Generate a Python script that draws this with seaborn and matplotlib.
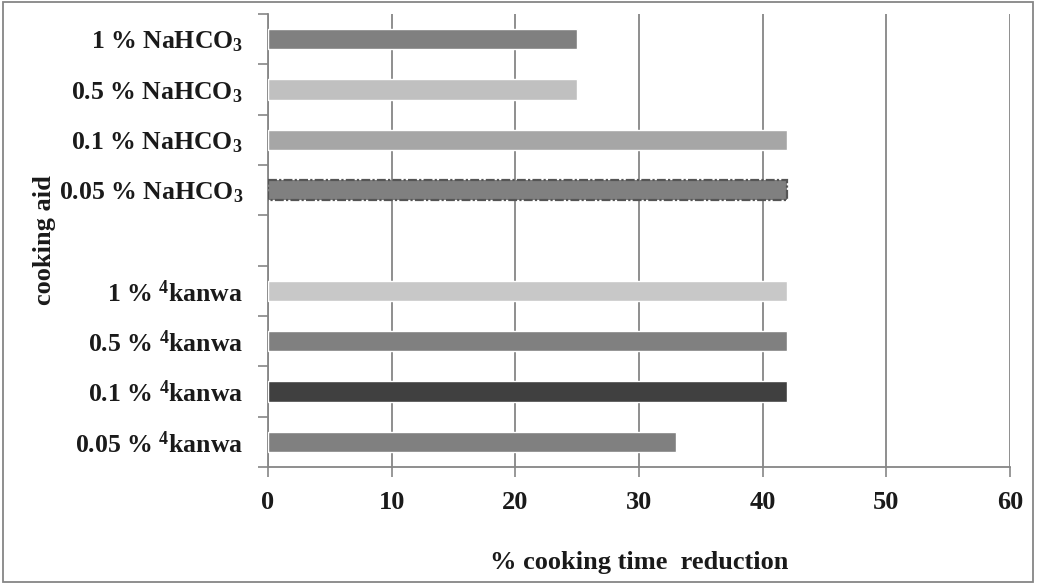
import numpy as np
import pandas as pd
import matplotlib.pyplot as plt
import matplotlib.patches as mpatches
import seaborn as sb

# chart values, top to bottom (one empty slot between the two groups)
aids = ["1 % NaHCO$_3$", "0.5 % NaHCO$_3$", "0.1 % NaHCO$_3$", "0.05 % NaHCO$_3$", " ",
        "1 % $^4$kanwa", "0.5 % $^4$kanwa", "0.1 % $^4$kanwa", "0.05 % $^4$kanwa"]
reduction = [25, 25, 42, 42, 0, 42, 42, 42, 33]
bar_colors = ["#808080", "#c0c0c0", "#a6a6a6", "#808080", "#ffffff",
              "#c8c8c8", "#808080", "#404040", "#808080"]

df = pd.DataFrame({"aid": aids, "reduction": reduction})

sb.set_style("white", {"xtick.bottom": True, "ytick.left": True})
plt.rcParams['font.family'] = ['Liberation Serif', 'DejaVu Serif']
plt.rcParams['font.weight'] = 'bold'
plt.rcParams['mathtext.fontset'] = 'custom'
plt.rcParams['mathtext.rm'] = 'Liberation Serif:bold'
plt.rcParams['mathtext.bf'] = 'Liberation Serif:bold'
plt.rcParams['mathtext.default'] = 'bf'

fig = plt.figure(figsize=(10.4, 5.84), dpi=100)
ax = fig.add_axes([0.2577, 0.2003, 0.7135, 0.7757])

sb.barplot(data=df, y="aid", x="reduction", hue="aid", order=aids,
           palette=dict(zip(aids, bar_colors)), legend=False,
           width=0.4, orient="h", ax=ax, saturation=1, zorder=3)

# dashed outline on the 0.05 % NaHCO3 bar
p = ax.patches[3]
p.set_edgecolor("#555555")
p.set_linestyle((0, (4, 1, 1, 1)))
p.set_linewidth(1.6)
ax.patches[4].set_visible(False)

ax.set_xlim(0, 60)
ax.set_ylim(8.5, -0.5)
ax.set_xticks(np.arange(0, 61, 10))
ax.set_xticklabels([str(v) for v in range(0, 61, 10)], fontsize=19, fontweight='bold')
ax.set_yticks(range(len(aids)))
ax.set_yticklabels(aids, fontsize=18.5, fontweight='bold')
ax.set_yticks(np.arange(-0.5, 9, 1), minor=True)
ax.tick_params(axis='y', which='major', length=0, pad=18, colors='#1a1a1a')
ax.tick_params(axis='y', which='minor', left=True, length=7, color='#868686', width=1.2, direction='out')
ax.tick_params(axis='x', which='major', bottom=True, length=7, width=1.2,
               direction='out', pad=10, labelcolor='#1a1a1a', color='#868686')

ax.grid(axis='x', color='#868686', linewidth=1.3, zorder=0)
ax.grid(axis='y', visible=False)
for s in ['top', 'right']:
    ax.spines[s].set_visible(False)
for s in ['left', 'bottom']:
    ax.spines[s].set_color('#868686')
    ax.spines[s].set_linewidth(1.3)

ax.set_ylabel("")
ax.set_xlabel("")
# axis titles centred on the plot area
fig.text(0.615, 0.037, "% cooking time  reduction", ha='center', va='center',
         fontsize=19, fontweight='bold', color='#1a1a1a')
fig.text(0.043, 0.589, "cooking aid", ha='center', va='center', rotation=90,
         fontsize=19, fontweight='bold', color='#1a1a1a')

# outer frame of the chart area
fig.patches.append(mpatches.Rectangle((0.003, 0.003), 0.99, 0.993, transform=fig.transFigure,
                                      fill=False, edgecolor='#868686', linewidth=1.3))

fig.savefig("out.png", dpi=100)
